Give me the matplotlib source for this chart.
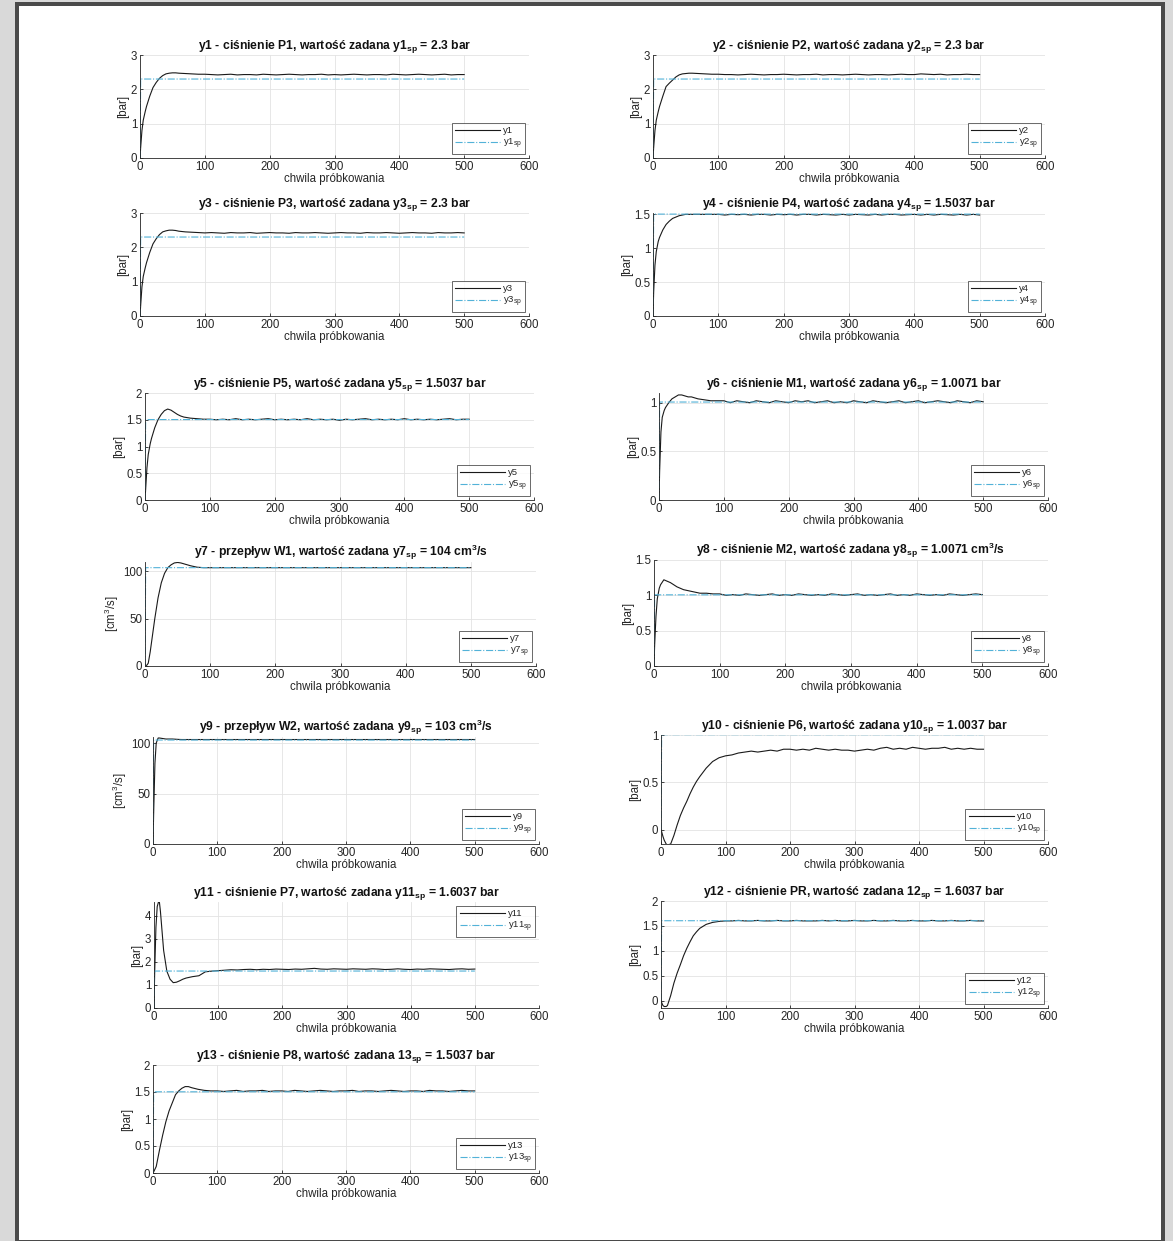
import matplotlib
matplotlib.use('Agg')
import matplotlib.pyplot as plt
from matplotlib.patches import Rectangle

plt.rcParams['font.family'] = ['Liberation Sans', 'DejaVu Sans']
plt.rcParams['mathtext.fontset'] = 'custom'
plt.rcParams['mathtext.rm'] = 'Liberation Sans'
plt.rcParams['mathtext.it'] = 'Liberation Sans:italic'
plt.rcParams['mathtext.bf'] = 'Liberation Sans:bold'

# chwile probkowania: stan przejsciowy i ustalony
K_TRANS = [0, 1, 3, 5, 8, 10, 15, 20, 25, 30, 35, 40, 45, 50, 55, 60, 70, 80, 90]
K_STEADY = list(range(100, 501, 10))
K_SP = [0, 1, 500]

NAMES = ['y1', 'y2', 'y3', 'y4', 'y5', 'y6', 'y7', 'y8', 'y9', 'y10', 'y11', 'y12', 'y13']
SETPOINTS = [2.3, 2.3, 2.3, 1.5037, 1.5037, 1.0071, 104, 1.0071, 103, 1.0037, 1.6037, 1.6037, 1.5037]
TITLES = [
    r'y1 - ciśnienie P1, wartość zadana y1$_{\mathbf{sp}}$ = 2.3 bar',
    r'y2 - ciśnienie P2, wartość zadana y2$_{\mathbf{sp}}$ = 2.3 bar',
    r'y3 - ciśnienie P3, wartość zadana y3$_{\mathbf{sp}}$ = 2.3 bar',
    r'y4 - ciśnienie P4, wartość zadana y4$_{\mathbf{sp}}$ = 1.5037 bar',
    r'y5 - ciśnienie P5, wartość zadana y5$_{\mathbf{sp}}$ = 1.5037 bar',
    r'y6 - ciśnienie M1, wartość zadana y6$_{\mathbf{sp}}$ = 1.0071 bar',
    r'y7 - przepływ W1, wartość zadana y7$_{\mathbf{sp}}$ = 104 cm$^{\mathbf{3}}$/s',
    r'y8 - ciśnienie M2, wartość zadana y8$_{\mathbf{sp}}$ = 1.0071 cm$^{\mathbf{3}}$/s',
    r'y9 - przepływ W2, wartość zadana y9$_{\mathbf{sp}}$ = 103 cm$^{\mathbf{3}}$/s',
    r'y10 - ciśnienie P6, wartość zadana y10$_{\mathbf{sp}}$ = 1.0037 bar',
    r'y11 - ciśnienie P7, wartość zadana y11$_{\mathbf{sp}}$ = 1.6037 bar',
    r'y12 - ciśnienie PR, wartość zadana 12$_{\mathbf{sp}}$ = 1.6037 bar',
    r'y13 - ciśnienie P8, wartość zadana 13$_{\mathbf{sp}}$ = 1.5037 bar',
]
YLABELS = ['[bar]'] * 6 + [r'[cm$^3$/s]', '[bar]', r'[cm$^3$/s]', '[bar]', '[bar]', '[bar]', '[bar]']

TRANS = [
    [0, 0.3, 0.8, 1.1, 1.35, 1.5, 1.8, 2.05, 2.2, 2.32, 2.4, 2.45, 2.47, 2.48, 2.48, 2.47, 2.46, 2.45, 2.44],
    [0, 0.3, 0.8, 1.1, 1.35, 1.5, 1.8, 2.08, 2.18, 2.27, 2.36, 2.42, 2.45, 2.46, 2.47, 2.47, 2.46, 2.45, 2.44],
    [0, 0.3, 0.85, 1.15, 1.4, 1.55, 1.85, 2.1, 2.25, 2.37, 2.45, 2.48, 2.5, 2.5, 2.49, 2.47, 2.45, 2.44, 2.43],
    [0, 0.35, 0.75, 0.95, 1.1, 1.16, 1.27, 1.35, 1.4, 1.44, 1.46, 1.48, 1.49, 1.5, 1.5, 1.5, 1.5, 1.5, 1.5],
    [0, 0.2, 0.6, 0.85, 1.05, 1.15, 1.35, 1.5, 1.6, 1.67, 1.7, 1.68, 1.64, 1.6, 1.57, 1.55, 1.53, 1.52, 1.51],
    [0, 0.3, 0.7, 0.85, 0.92, 0.95, 1.0, 1.04, 1.06, 1.08, 1.08, 1.07, 1.06, 1.06, 1.05, 1.04, 1.03, 1.02, 1.02],
    [0, 0.2, 1, 3, 15, 25, 50, 72, 88, 98, 104, 107, 109, 109.5, 109, 108, 106, 104.5, 104],
    [0, 0.3, 0.7, 0.95, 1.1, 1.15, 1.22, 1.2, 1.18, 1.15, 1.12, 1.1, 1.08, 1.07, 1.06, 1.05, 1.03, 1.03, 1.02],
    [0, 30, 80, 100, 105, 105, 104.5, 104, 104, 104, 103.8, 103.6, 103.5, 103.5, 103.5, 103.5, 103.5, 103.5, 103.5],
    [0, -0.02, -0.07, -0.11, -0.15, -0.16, -0.15, -0.06, 0.05, 0.15, 0.23, 0.3, 0.38, 0.45, 0.51, 0.56, 0.65, 0.72, 0.76],
    [0, 1.5, 3.5, 4.4, 4.7, 4.2, 2.5, 1.6, 1.25, 1.1, 1.12, 1.18, 1.25, 1.3, 1.33, 1.36, 1.4, 1.57, 1.6],
    [0, -0.04, -0.1, -0.12, -0.12, -0.1, 0.1, 0.35, 0.55, 0.72, 0.9, 1.05, 1.18, 1.3, 1.38, 1.45, 1.53, 1.57, 1.59],
    [0, 0.02, 0.07, 0.12, 0.3, 0.42, 0.7, 0.95, 1.15, 1.3, 1.45, 1.52, 1.57, 1.6, 1.6, 1.58, 1.55, 1.53, 1.52],
]

STEADY = [
    [2.44, 2.43, 2.42, 2.43, 2.44, 2.42, 2.43, 2.43, 2.42, 2.44,
     2.43, 2.42, 2.43, 2.44, 2.43, 2.42, 2.43, 2.43, 2.44, 2.42,
     2.43, 2.42, 2.43, 2.44, 2.43, 2.42, 2.43, 2.43, 2.42, 2.44,
     2.43, 2.42, 2.43, 2.44, 2.43, 2.42, 2.43, 2.44, 2.42, 2.43, 2.43],
    [2.44, 2.43, 2.43, 2.42, 2.43, 2.44, 2.43, 2.42, 2.43, 2.43,
     2.44, 2.43, 2.42, 2.43, 2.43, 2.44, 2.42, 2.43, 2.43, 2.42,
     2.43, 2.44, 2.43, 2.42, 2.43, 2.43, 2.42, 2.43, 2.44, 2.43,
     2.43, 2.45, 2.44, 2.43, 2.44, 2.42, 2.43, 2.43, 2.44, 2.43, 2.43],
    [2.42, 2.43, 2.42, 2.41, 2.43, 2.42, 2.42, 2.43, 2.41, 2.42,
     2.43, 2.42, 2.42, 2.41, 2.43, 2.42, 2.42, 2.43, 2.42, 2.41,
     2.42, 2.43, 2.42, 2.42, 2.41, 2.43, 2.42, 2.42, 2.43, 2.42,
     2.41, 2.42, 2.43, 2.42, 2.42, 2.41, 2.43, 2.42, 2.42, 2.43, 2.42],
    [1.5, 1.49, 1.5, 1.495, 1.5, 1.49, 1.5, 1.5, 1.49, 1.5,
     1.495, 1.5, 1.49, 1.5, 1.5, 1.49, 1.5, 1.495, 1.49, 1.5,
     1.49, 1.5, 1.495, 1.49, 1.5, 1.49, 1.5, 1.5, 1.49, 1.495,
     1.5, 1.49, 1.5, 1.49, 1.5, 1.495, 1.49, 1.5, 1.49, 1.5, 1.49],
    [1.51, 1.5, 1.51, 1.5, 1.52, 1.5, 1.51, 1.5, 1.51, 1.52,
     1.5, 1.51, 1.5, 1.51, 1.5, 1.52, 1.5, 1.51, 1.5, 1.51,
     1.49, 1.51, 1.5, 1.51, 1.52, 1.5, 1.51, 1.5, 1.51, 1.5,
     1.52, 1.5, 1.51, 1.5, 1.51, 1.5, 1.51, 1.52, 1.5, 1.51, 1.51],
    [1.02, 1.0, 1.02, 1.01, 1.0, 1.02, 1.01, 1.0, 1.02, 1.01,
     1.0, 1.02, 1.01, 1.02, 1.0, 1.01, 1.02, 1.0, 1.01, 1.0,
     1.02, 1.01, 1.0, 1.02, 1.01, 1.0, 1.01, 1.02, 1.0, 1.01,
     1.02, 1.0, 1.01, 1.02, 1.01, 1.0, 1.02, 1.01, 1.0, 1.02, 1.01],
    [104, 104, 104, 104, 104, 104, 104, 104, 104, 104,
     104, 104, 104, 104, 104, 104, 104, 104, 104, 104,
     104, 104, 104, 104, 104, 104, 104, 104, 104, 104,
     104, 104, 104, 104, 104, 104, 104, 104, 104, 104, 104],
    [1.02, 1.0, 1.01, 1.0, 1.02, 1.01, 1.0, 1.01, 1.02, 1.0,
     1.01, 1.0, 1.02, 1.01, 1.0, 1.01, 1.0, 1.02, 1.01, 1.0,
     1.01, 1.02, 1.0, 1.01, 1.0, 1.01, 1.02, 1.0, 1.01, 1.0,
     1.02, 1.01, 1.0, 1.01, 1.0, 1.02, 1.01, 1.0, 1.01, 1.02, 1.01],
    [103.5, 103.5, 103.5, 103.5, 103.5, 103.5, 103.5, 103.5, 103.5, 103.5,
     103.5, 103.5, 103.5, 103.5, 103.5, 103.5, 103.5, 103.5, 103.5, 103.5,
     103.5, 103.5, 103.5, 103.5, 103.5, 103.5, 103.5, 103.5, 103.5, 103.5,
     103.5, 103.5, 103.5, 103.5, 103.5, 103.5, 103.5, 103.5, 103.5, 103.5, 103.5],
    [0.78, 0.79, 0.81, 0.82, 0.83, 0.82, 0.83, 0.84, 0.83, 0.85,
     0.85, 0.84, 0.85, 0.84, 0.86, 0.85, 0.84, 0.85, 0.84, 0.84,
     0.83, 0.84, 0.85, 0.84, 0.86, 0.87, 0.85, 0.86, 0.85, 0.87,
     0.86, 0.85, 0.86, 0.86, 0.87, 0.85, 0.86, 0.85, 0.86, 0.85, 0.85],
    [1.62, 1.64, 1.66, 1.65, 1.67, 1.68, 1.66, 1.68, 1.67, 1.69,
     1.68, 1.67, 1.69, 1.68, 1.7, 1.72, 1.69, 1.68, 1.7, 1.69,
     1.68, 1.7, 1.69, 1.68, 1.7, 1.69, 1.67, 1.68, 1.7, 1.68,
     1.67, 1.69, 1.68, 1.7, 1.69, 1.68, 1.67, 1.69, 1.7, 1.68, 1.69],
    [1.6, 1.6, 1.61, 1.6, 1.6, 1.61, 1.6, 1.6, 1.61, 1.6,
     1.6, 1.61, 1.6, 1.6, 1.6, 1.61, 1.6, 1.61, 1.6, 1.6,
     1.61, 1.6, 1.6, 1.61, 1.6, 1.6, 1.61, 1.6, 1.6, 1.61,
     1.6, 1.6, 1.61, 1.6, 1.6, 1.61, 1.6, 1.6, 1.61, 1.6, 1.6],
    [1.52, 1.51, 1.52, 1.53, 1.51, 1.52, 1.52, 1.53, 1.51, 1.52,
     1.52, 1.51, 1.53, 1.52, 1.51, 1.52, 1.53, 1.52, 1.51, 1.52,
     1.52, 1.53, 1.51, 1.52, 1.52, 1.51, 1.52, 1.53, 1.52, 1.51,
     1.52, 1.52, 1.51, 1.53, 1.52, 1.52, 1.51, 1.52, 1.53, 1.52, 1.52],
]

YLIMS = [(0, 3), (0, 3), (0, 3), (0, 1.52), (0, 2), (0, 1.1), (0, 110),
         (0, 1.5), (0, 106), (-0.15, 1.0), (0, 4.6), (-0.15, 2), (0, 2)]
YTICKS = [[0, 1, 2, 3], [0, 1, 2, 3], [0, 1, 2, 3], [0, 0.5, 1, 1.5],
          [0, 0.5, 1, 1.5, 2], [0, 0.5, 1], [0, 50, 100], [0, 0.5, 1, 1.5],
          [0, 50, 100], [0, 0.5, 1], [0, 1, 2, 3, 4], [0, 0.5, 1, 1.5, 2],
          [0, 0.5, 1, 1.5, 2]]

# polozenie osi w pikselach: lewa, prawa, gora, dol
BOXES = [(140, 529, 55, 158), (653, 1045, 55, 158),
         (140, 529, 213, 316), (653, 1045, 213, 316),
         (145, 534, 393, 500), (659, 1048, 393, 500),
         (145, 536, 562, 666), (654, 1048, 560, 666),
         (153, 539, 737, 844), (661, 1048, 735, 844),
         (154, 539, 902, 1008), (661, 1048, 901, 1008),
         (153, 539, 1065, 1173)]

W, H = 1173, 1241
DARK = '#262626'
SP_COLOR = '#52b2d8'


def fig_rect(x0, x1, y0, y1):
    return [x0 / W, 1 - y1 / H, (x1 - x0) / W, (y1 - y0) / H]


def main():
    fig = plt.figure(figsize=(W / 100, H / 100), dpi=100)
    fig.patch.set_facecolor('#d9d9d9')
    fig.patches.append(Rectangle((15 / W, 0), 1150 / W, 1 - 2 / H, transform=fig.transFigure,
                                 facecolor='#4a4a4a', edgecolor='none', zorder=-2))
    fig.patches.append(Rectangle((19 / W, 1 / H), 1142 / W, 1 - 7 / H, transform=fig.transFigure,
                                 facecolor='white', edgecolor='none', zorder=-1))

    for i, name in enumerate(NAMES):
        ax = fig.add_axes(fig_rect(*BOXES[i]))
        k = K_TRANS + K_STEADY
        y = TRANS[i] + STEADY[i]
        sp = SETPOINTS[i]
        ax.plot(k, y, color='#1a1a1a', lw=0.8, label=name)
        ax.plot(K_SP, [0, sp, sp], color=SP_COLOR, lw=0.8, linestyle='-.', label=name + r'$_{\rm sp}$')

        ax.set_xlim(0, 600)
        ax.set_ylim(*YLIMS[i])
        ax.set_xticks(range(0, 601, 100))
        ax.set_yticks(YTICKS[i])
        ax.set_yticklabels(['{:g}'.format(t) for t in YTICKS[i]])
        ax.grid(True, color='#e3e3e3', lw=0.6)
        ax.set_axisbelow(True)
        for side in ['top', 'right']:
            ax.spines[side].set_visible(False)
        for side in ['left', 'bottom']:
            ax.spines[side].set_color(DARK)
            ax.spines[side].set_linewidth(0.6)
        ax.tick_params(direction='in', length=2.5, width=0.6, labelsize=8.3,
                       colors=DARK, pad=2)
        ax.set_title(TITLES[i], fontsize=8.7, fontweight='bold', color='#111111', pad=3)
        ax.set_xlabel('chwila próbkowania', fontsize=8.3, color=DARK, labelpad=0)
        ax.set_ylabel(YLABELS[i], fontsize=8.3, color=DARK, labelpad=1)

        loc = 'upper right' if name == 'y11' else 'lower right'
        leg = ax.legend(loc=loc, fontsize=6.8, handlelength=4.8, frameon=True, fancybox=False,
                        borderpad=0.35, labelspacing=0.15, handletextpad=0.3,
                        borderaxespad=0.4)
        leg.get_frame().set_edgecolor(DARK)
        leg.get_frame().set_linewidth(0.6)
        for t in leg.get_texts():
            t.set_color(DARK)

    fig.savefig('out.png', dpi=100, facecolor=fig.get_facecolor())


if __name__ == '__main__':
    main()
